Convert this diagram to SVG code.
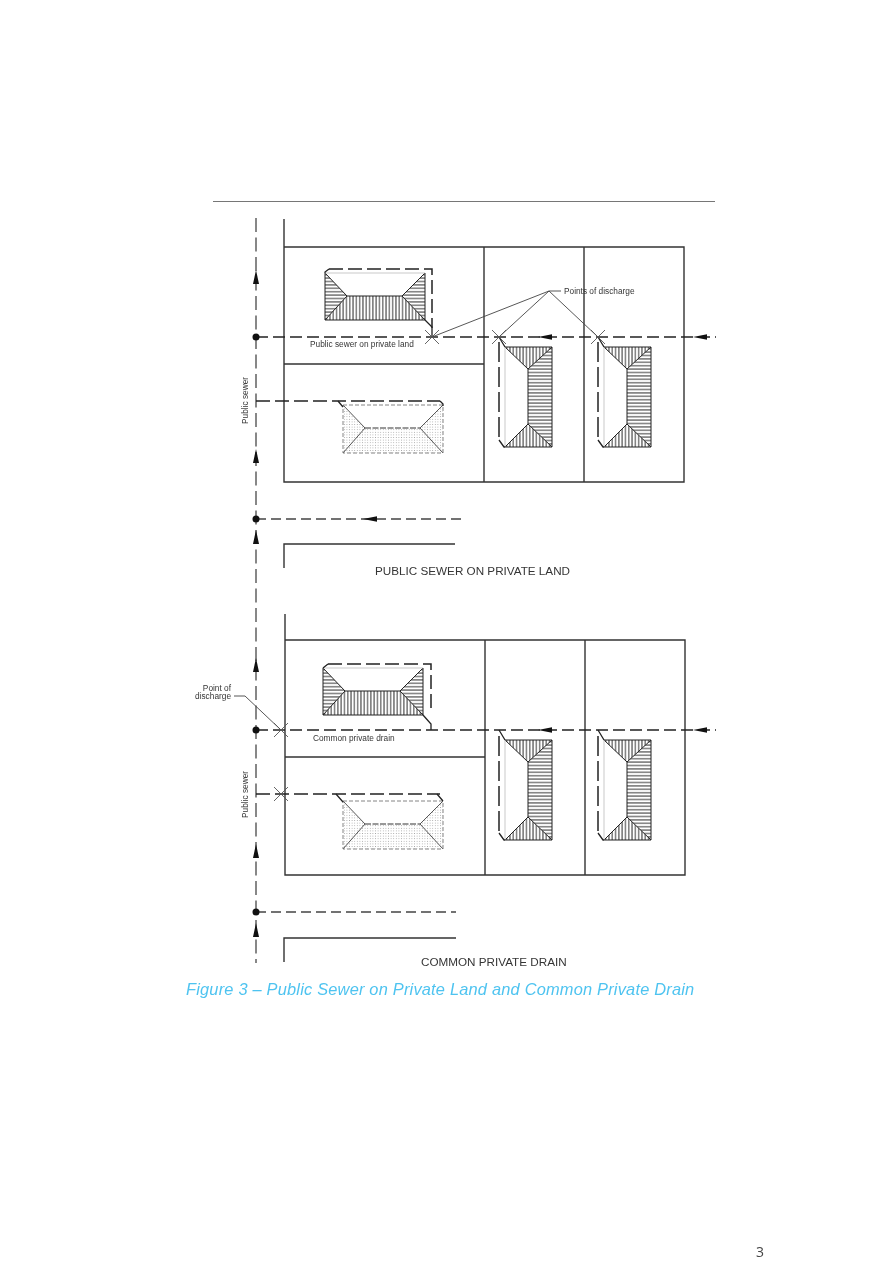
<svg xmlns="http://www.w3.org/2000/svg" width="879" height="1274" viewBox="0 0 879 1274">
<style>
.wall{fill:none;stroke:#333;stroke-width:1.4}
.rule{fill:none;stroke:#666;stroke-width:.9}
.drain{fill:none;stroke:#222;stroke-width:1.5;stroke-dasharray:12 5}
.roof{fill:none;stroke:#222;stroke-width:1.5;stroke-dasharray:14 5}
.tall{fill:none;stroke:#222;stroke-width:1.5;stroke-dasharray:20 5}
.sewer{fill:none;stroke:#444;stroke-width:1.3;stroke-dasharray:10 5}
.main{fill:none;stroke:#555;stroke-width:1.4;stroke-dasharray:14 5.5}
.solid{fill:none;stroke:#222;stroke-width:1.3}
.hip{fill:none;stroke:#222;stroke-width:1}
.hipd{fill:none;stroke:#444;stroke-width:.9}
.ridged{fill:none;stroke:#333;stroke-width:1;stroke-dasharray:6 1.5}
.faint{fill:none;stroke:#bbb;stroke-width:.8}
.dotline{fill:none;stroke:#777;stroke-width:.9;stroke-dasharray:4 2}
.leader{fill:none;stroke:#444;stroke-width:.9}
.cross{fill:none;stroke:#555;stroke-width:.9}
.ah{fill:#111}
.t{font-family:"Liberation Sans",Arial,sans-serif;fill:#333}
.s{font-size:8.3px}
.b{font-size:11.7px}
.cap{font-family:"Liberation Sans",Arial,sans-serif;font-style:italic;font-size:16.4px;fill:#4cc3f0;letter-spacing:.2px}
</style>
<defs>
<pattern id="ph" width="4" height="3.4" patternUnits="userSpaceOnUse"><rect width="4" height="3.4" fill="#fff"/><path d="M0 1.7H4" stroke="#555" stroke-width="1.2"/></pattern>
<pattern id="pv" width="3.3" height="4" patternUnits="userSpaceOnUse"><rect width="3.3" height="4" fill="#fff"/><path d="M1.65 0V4" stroke="#555" stroke-width="1.2"/></pattern>
<pattern id="pd" width="2.6" height="2.6" patternUnits="userSpaceOnUse"><rect width="2.6" height="2.6" fill="#fff"/><circle cx="1.3" cy="1.3" r=".5" fill="#999"/></pattern>
<g id="houseH">
<path d="M0 0L22 23L0 47Z M100 0L77 23L100 47Z" fill="url(#ph)"/>
<path d="M0 47L22 23H77L100 47Z" fill="url(#pv)"/>
<path class="hip" d="M0 0L22 23H77L100 0 M0 47L22 23 M77 23L100 47 M0 0V47H100V0"/>
<path class="faint" d="M0 0H100"/>
</g>
<g id="houseV">
<path d="M0 0L23 22L47 0Z M0 100L23 77L47 100Z" fill="url(#pv)"/>
<path d="M47 0L23 22V77L47 100Z" fill="url(#ph)"/>
<path class="hip" d="M0 0L23 22V77L47 100 M47 0L23 22 M23 77L0 100 M0 0H47V100H0"/>
<path class="faint" d="M0 0V100"/>
</g>
<g id="houseD">
<path d="M0 0L22 23L0 48Z M100 0L77 23L100 48Z M0 48L22 23H77L100 48Z" fill="url(#pd)"/>
<path class="ridged" d="M22 23H77"/>
<path class="hipd" d="M0 48L22 23 M77 23L100 48 M0 0L22 23 M77 23L100 0"/>
<path class="dotline" d="M0 0H100V48H0Z"/>
</g>
<path id="up" class="ah" d="M0 -7L3 7H-3Z"/>
<path id="left" class="ah" d="M-7 0L7 -2.8V2.8Z"/>
<path id="x" class="cross" d="M-7 -7L7 7M-7 7L7 -7"/>
</defs>
<rect width="879" height="1274" fill="#fff"/>
<path id="page-rule" class="rule" d="M213 201.5H715"/>

<g id="lots-upper">
<path class="wall" d="M284 219V482H684V247H284 M284 364H484 M484 247V482 M584 247V482"/>
<path class="wall" d="M284 568V544H455"/>
</g>
<g id="lots-lower">
<path class="wall" d="M285 614V875H685V640H285 M285 757H485 M485 640V875 M585 640V875"/>
<path class="wall" d="M284 962V938H456"/>
</g>

<g id="house-upper-1"><use href="#houseH" x="325" y="273"/></g>
<g id="house-upper-2"><use href="#houseD" x="343" y="405"/></g>
<g id="house-upper-3"><use href="#houseV" x="505" y="347"/></g>
<g id="house-upper-4"><use href="#houseV" x="604" y="347"/></g>
<g id="house-lower-1"><use href="#houseH" x="323" y="668"/></g>
<g id="house-lower-2"><use href="#houseD" x="343" y="801"/></g>
<g id="house-lower-3"><use href="#houseV" x="505" y="740"/></g>
<g id="house-lower-4"><use href="#houseV" x="604" y="740"/></g>

<g id="connectors">
<path class="main" d="M256 218V963"/>
<path class="drain" d="M256 337H716"/>
<path class="sewer" d="M256 519H462"/>
<path class="roof" d="M256 401H440"/>
<path class="roof" d="M329 269H432V328"/>
<path class="solid" d="M325 273V272L329 269 M425 320L432 327V337 M338 401L343 407 M440 401L443 404V406"/>
<path class="tall" d="M499 342V440"/>
<path class="solid" d="M499 337L505 347 M499 440L504 447H505"/>
<path class="tall" d="M598 342V440"/>
<path class="solid" d="M598 337L604 347 M598 440L603 447H604"/>

<path class="drain" d="M256 730H716"/>
<path class="sewer" d="M256 912H456"/>
<path class="roof" d="M256 794H440"/>
<path class="roof" d="M328 664H431V712"/>
<path class="solid" d="M323 668L328 664 M423 715L431 724V730 M336 794L343 802 M437 794L443 801"/>
<path class="tall" d="M499 736V833"/>
<path class="solid" d="M499 730L505 740 M499 833L504 840H505"/>
<path class="tall" d="M598 736V833"/>
<path class="solid" d="M598 730L604 740 M598 833L603 840H604"/>

<path class="leader" d="M561 291H549L432 337 M549 291L499 337 M549 291L598 337"/>
<path class="leader" d="M234 696H245L281 730"/>
<use href="#x" x="432" y="337"/><use href="#x" x="499" y="337"/><use href="#x" x="598" y="337"/>
<use href="#x" x="281" y="730"/><use href="#x" x="281" y="794"/>
<circle class="ah" cx="256" cy="337" r="3.5"/><circle class="ah" cx="256" cy="519" r="3.5"/>
<circle class="ah" cx="256" cy="730" r="3.5"/><circle class="ah" cx="256" cy="912" r="3.5"/>
<use href="#up" x="256" y="277"/><use href="#up" x="256" y="456"/><use href="#up" x="256" y="537"/>
<use href="#up" x="256" y="665"/><use href="#up" x="256" y="851"/><use href="#up" x="256" y="930"/>
<use href="#left" x="545" y="337"/><use href="#left" x="700" y="337"/><use href="#left" x="370" y="519"/>
<use href="#left" x="545" y="730"/><use href="#left" x="700" y="730"/>
</g>

<g id="labels" opacity=".99">
<text class="t s" x="564" y="294">Points of discharge</text>
<text class="t s" x="310" y="347">Public sewer on private land</text>
<text class="t s" x="313" y="741">Common private drain</text>
<text class="t s" text-anchor="end" x="231" y="691">Point of</text>
<text class="t s" text-anchor="end" x="231" y="699">discharge</text>
<text class="t s" transform="translate(248 424) rotate(-90)">Public sewer</text>
<text class="t s" transform="translate(248 818) rotate(-90)">Public sewer</text>
<text class="t b" x="375" y="575">PUBLIC SEWER ON PRIVATE LAND</text>
<text class="t b" x="421" y="966">COMMON PRIVATE DRAIN</text>
<text class="cap" x="186" y="995">Figure 3 – Public Sewer on Private Land and Common Private Drain</text>
<text id="page-number" x="756" y="1257" font-family="Open Sans,sans-serif" font-size="14" fill="#444">3</text>
</g>
</svg>
